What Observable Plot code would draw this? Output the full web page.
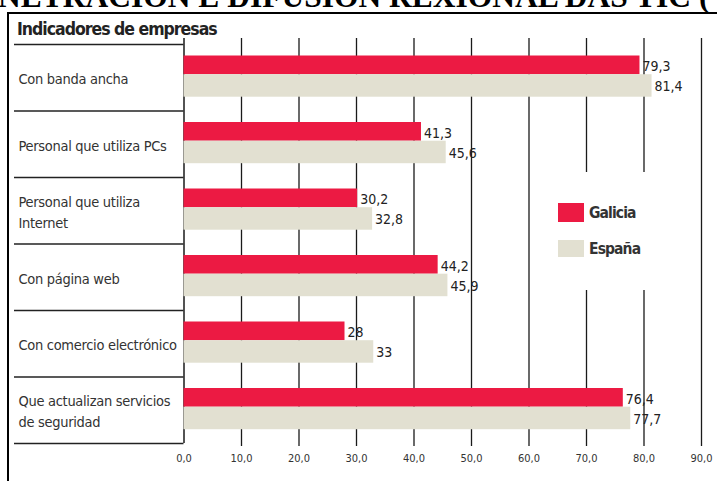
<!DOCTYPE html>
<html>
<head>
<meta charset="utf-8">
<script src="https://cdn.jsdelivr.net/npm/d3@7"></script>
<script src="https://cdn.jsdelivr.net/npm/@observablehq/plot@0.6"></script>
<style>
  html, body { margin: 0; padding: 0; background: #fff; }
  #wrap { position: relative; width: 717px; height: 481px; overflow: hidden; background: #fff; }
  #title { position: absolute; left: 0; top: 0; width: 717px; height: 12px; overflow: hidden; }
  #title span { position: absolute; left: -2px; white-space: nowrap; font-family: "Liberation Serif", "DejaVu Serif", serif; font-weight: bold; color: #000; line-height: 1; }
  #box { position: absolute; left: 7px; top: 12px; width: 760px; height: 500px; border-left: 2px solid #000; border-top: 2px solid #000; box-sizing: border-box; }
  #subtitle { position: absolute; left: 17px; top: 18px; font-family: "Liberation Sans Narrow", "DejaVu Sans Condensed", sans-serif; font-stretch: condensed; font-weight: bold; font-size: 17.5px; line-height: 22px; color: #222; white-space: nowrap; letter-spacing: -1px; }
  #chart { position: absolute; left: 0; top: 0; }
  #chart svg g.cat-labels text { letter-spacing: -0.3px; }
  #legend { position: absolute; left: 545px; top: 172px; width: 148px; height: 118px; background: #fff; }
  .lg-item { position: absolute; left: 13px; height: 20px; }
  .lg-sw { position: absolute; left: 0; width: 26px; }
  .lg-tx { position: absolute; left: 31px; white-space: nowrap; font-family: "Liberation Sans Narrow", "DejaVu Sans Condensed", sans-serif; font-stretch: condensed; font-weight: bold; font-size: 15.5px; letter-spacing: -0.9px; color: #333; line-height: 20px; }
</style>
</head>
<body>
<div id="wrap">
  <div id="title"><span id="titleText"></span></div>
  <div id="box"></div>
  <div id="subtitle"></div>
  <div id="chart"></div>
  <div id="legend"></div>
</div>
<script>
// ---- Data ----
const titleText = "NETRACIÓN E DIFUSIÓN REXIONAL DAS TIC (";
const subtitleText = "Indicadores de empresas";
const categories = [
  "Con banda ancha",
  "Personal que utiliza PCs",
  "Personal que utiliza\nInternet",
  "Con página web",
  "Con comercio electrónico",
  "Que actualizan servicios\nde seguridad"
];
const series = ["Galicia", "España"];
const seriesColors = ["#EC1A43", "#E2E0D1"];
const galiciaValues = [79.3, 41.3, 30.2, 44.2, 28, 76.4];
const espanaValues = [81.4, 45.6, 32.8, 45.9, 33, 77.7];
const galiciaLabels = ["79,3", "41,3", "30,2", "44,2", "28", "76,4"];
const espanaLabels = ["81,4", "45,6", "32,8", "45,9", "33", "77,7"];
const xTicks = [0, 10, 20, 30, 40, 50, 60, 70, 80, 90];
const xTickLabels = ["0,0", "10,0", "20,0", "30,0", "40,0", "50,0", "60,0", "70,0", "80,0", "90,0"];

// ---- Layout ----
const W = 717, H = 481;
const mL = 183.5, mR = 16, mT = 38, mB = 35;
const xRange = [183.5, 701];
const yRange = [44, 443];
const narrow = '"Liberation Sans Narrow", "DejaVu Sans Condensed", sans-serif';

// title fit
(function () {
  const c = document.createElement("canvas").getContext("2d");
  c.font = 'bold 100px "Liberation Serif"';
  const w = c.measureText(titleText).width;
  const fs = 100 * 714 / w;
  const el = document.getElementById("titleText");
  el.textContent = titleText;
  el.style.fontSize = fs + "px";
  el.style.top = (9.5 - 0.9 * fs) + "px";
})();
document.getElementById("subtitle").textContent = subtitleText;

const rows = categories.flatMap((c, i) => [
  {cat: c, i, series: series[0], value: galiciaValues[i], label: galiciaLabels[i]},
  {cat: c, i, series: series[1], value: espanaValues[i], label: espanaLabels[i]}
]);
const gal = rows.filter(d => d.series === series[0]);
const esp = rows.filter(d => d.series === series[1]);

const chart = Plot.plot({
  width: W,
  height: H,
  marginLeft: mL,
  marginRight: mR,
  marginTop: mT,
  marginBottom: mB,
  style: {fontFamily: narrow, background: "transparent", overflow: "visible"},
  x: {domain: [0, 90], range: xRange, axis: null},
  y: {domain: [0, categories.length], range: yRange, axis: null},
  color: {domain: series, range: seriesColors},
  marks: [
    Plot.ruleX(xTicks.filter(d => d > 0), {x: d => d, stroke: "#1a1a1a", strokeWidth: 1.3}),
    Plot.ruleX([0], {x: d => d, stroke: "#1a1a1a", strokeWidth: 1.5, insetBottom: 3}),
    Plot.ruleY(d3.range(categories.length + 1), {
      y: d => d,
      stroke: "#222",
      strokeWidth: 1.5,
      insetLeft: 14 - mL,
      insetRight: (W - mR) - mL
    }),
    Plot.rectX(gal, {x1: 0, x2: "value", y1: "i", y2: d => d.i + 1, fill: d => d.series, insetTop: 11.5, insetBottom: 36.3}),
    Plot.rectX(esp, {x1: 0, x2: "value", y1: "i", y2: d => d.i + 1, fill: d => d.series, insetTop: 30.2, insetBottom: 13.8}),
    Plot.text(gal, {x: "value", y: "i", text: "label", dx: 2.5, dy: 22.5, textAnchor: "start", fontSize: 14, fill: "#222", fontWeight: 500}),
    Plot.text(esp, {x: "value", y: "i", text: "label", dx: 2.5, dy: 42.5, textAnchor: "start", fontSize: 14, fill: "#222", fontWeight: 500}),
    Plot.text(categories, {
      y: (d, i) => i + 0.5,
      text: d => d,
      frameAnchor: "left",
      textAnchor: "start",
      dx: 18 - mL,
      fontSize: 14.5,
      lineHeight: 1.45,
      fill: "#333",
      className: "cat-labels"
    }),
    Plot.axisX(xTicks, {
      label: null,
      tickSize: 0,
      tickPadding: 8,
      tickFormat: (d) => xTickLabels[xTicks.indexOf(d)],
      fontSize: 11,
      fill: "#333"
    })
  ]
});
document.getElementById("chart").appendChild(chart);

// legend
const legend = document.getElementById("legend");
const legendTops = [31, 68];
const legendHeights = [19, 17];
series.forEach((s, j) => {
  const item = document.createElement("div");
  item.className = "lg-item";
  item.style.top = legendTops[j] + "px";
  const sw = document.createElement("div");
  sw.className = "lg-sw";
  sw.style.background = seriesColors[j];
  sw.style.height = legendHeights[j] + "px";
  const tx = document.createElement("div");
  tx.className = "lg-tx";
  tx.textContent = s;
  tx.style.top = (legendHeights[j] / 2 - 10) + "px";
  item.appendChild(sw);
  item.appendChild(tx);
  legend.appendChild(item);
});
</script>
</body>
</html>
